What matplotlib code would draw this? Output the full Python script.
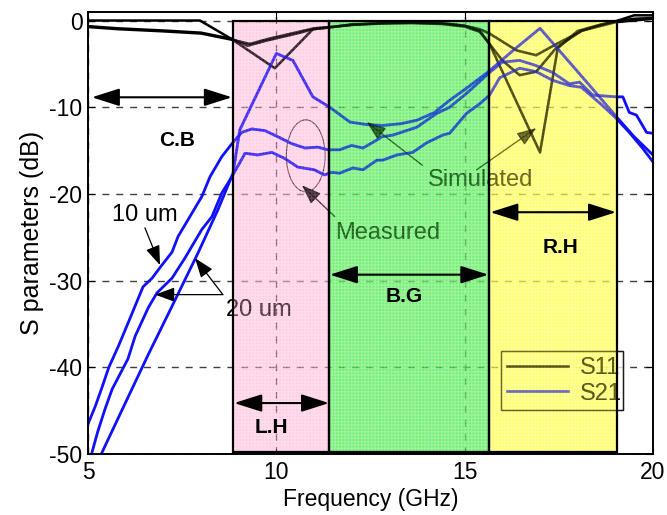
import matplotlib
matplotlib.use("Agg")
import matplotlib.pyplot as plt
from matplotlib.patches import Rectangle, Ellipse

plt.rcParams['font.family'] = ['Liberation Sans', 'DejaVu Sans']
plt.rcParams['axes.unicode_minus'] = False

# ---- S11 traces (dB) ----
s11_a_f = [5.0, 7.97, 8.8, 9.96, 10.97, 11.4, 12.0, 12.8, 13.6, 14.4, 15.0, 15.4, 15.66,
           17.0, 17.47, 18.0, 18.5, 19.0, 19.5, 20.0]
s11_a_db = [0.0, 0.0, -2.1, -5.5, -1.0, -0.8, -0.5, -0.3, -0.2, -0.3, -0.6, -1.2, -2.7,
            -15.2, -3.2, -1.2, -0.6, -0.1, 0.6, 0.6]

s11_b_f = [5.0, 5.8, 7.0, 8.0, 8.8, 9.24, 9.75, 10.54, 10.97, 11.4, 12.0, 12.8, 13.6, 14.4,
           15.0, 15.4, 15.66, 16.38, 16.9, 17.44, 18.13, 19.0, 19.5, 20.0]
s11_b_db = [-0.65, -0.9, -1.15, -1.4, -2.1, -2.9, -2.3, -1.5, -1.0, -0.8, -0.45, -0.3, -0.25,
            -0.35, -0.6, -1.0, -1.5, -3.45, -4.0, -2.7, -1.15, -0.2, 0.0, 0.2]

s11_c_f = [5.0, 5.8, 7.0, 8.0, 8.8, 9.3, 9.8, 10.5, 11.0, 11.4, 12.0, 12.8, 13.6, 14.4,
           15.0, 15.4, 15.66, 16.0, 16.46, 16.9, 17.44, 18.1, 18.6, 19.0, 19.5, 20.0]
s11_c_db = [-0.75, -1.0, -1.25, -1.5, -2.2, -2.7, -2.1, -1.4, -0.9, -0.75, -0.5, -0.35, -0.3,
            -0.4, -0.7, -1.3, -2.7, -4.6, -6.3, -5.9, -3.1, -1.2, -0.5, -0.1, 0.2, 0.3]

# ---- S21 traces (dB) ----
s21_sim_f = [5.3, 5.37, 6.0, 6.6, 7.2, 7.92, 8.45, 8.85, 9.03, 10.0, 10.44, 10.97, 11.42,
             11.95, 12.4, 12.82, 13.3, 13.73, 14.2, 14.6, 15.05, 15.6, 16.3, 17.0, 17.6,
             18.3, 19.03, 19.5, 20.0]
s21_sim_db = [-50.6, -49.8, -44.0, -38.5, -33.2, -26.8, -21.8, -17.6, -12.6, -3.8, -4.6, -8.8,
              -10.0, -11.7, -12.0, -12.1, -11.9, -11.5, -10.6, -9.2, -7.8, -6.0, -3.4, -0.9,
              -3.9, -7.4, -11.1, -13.4, -15.5]

s21_m10_f = [5.0, 5.19, 5.37, 5.55, 5.8, 6.06, 6.46, 6.7, 6.96, 7.23, 7.39, 7.76, 8.02, 8.24,
             8.55, 8.82, 9.08, 9.35, 9.7, 10.04, 10.41, 10.76, 11.1, 11.37, 11.68, 12.0,
             12.3, 12.66, 12.8, 13.1, 13.73, 14.26, 14.6, 15.05, 15.66, 16.0, 16.46, 16.9,
             17.34, 17.78, 18.05, 18.4, 19.03, 19.2, 19.37, 19.56, 19.83, 20.0]
s21_m10_db = [-46.5, -44.5, -42.3, -40.0, -37.6, -34.9, -30.7, -29.7, -28.2, -26.7, -24.9,
              -22.2, -20.3, -18.0, -15.7, -14.2, -12.9, -12.5, -12.7, -13.4, -14.2, -14.7,
              -14.6, -14.9, -14.9, -14.4, -14.7, -13.8, -13.4, -13.2, -12.3, -10.7, -10.0,
              -8.4, -6.0, -4.8, -4.6, -5.2, -6.0, -7.3, -7.1, -8.6, -8.8, -8.8, -10.6,
              -10.9, -12.9, -13.0]

s21_m20_f = [5.08, 5.25, 5.45, 5.64, 6.06, 6.25, 6.6, 6.83, 7.23, 7.57, 8.02, 8.29, 8.55,
             8.82, 9.17, 9.5, 9.88, 10.22, 10.57, 11.0, 11.28, 11.47, 11.68, 12.03, 12.3,
             12.67, 12.82, 13.2, 13.62, 13.99, 14.42, 14.6, 15.05, 15.4, 15.66, 15.93,
             16.46, 16.9, 17.34, 17.78, 18.1, 18.66, 19.03, 19.37, 19.72, 20.0]
s21_m20_db = [-50.2, -47.5, -44.8, -42.5, -39.0, -36.4, -33.1, -31.4, -29.7, -27.4, -24.1,
              -22.6, -19.9, -18.0, -15.3, -15.5, -15.2, -15.9, -16.9, -17.2, -17.8, -17.5,
              -17.6, -17.0, -17.2, -16.1, -16.1, -15.5, -15.2, -14.1, -13.2, -13.0, -10.7,
              -9.6, -8.6, -6.6, -5.5, -5.9, -6.9, -7.5, -7.7, -9.8, -11.3, -12.9, -14.7,
              -16.3]

# ---- frequency bands ----
band_names = ['L.H', 'B.G', 'R.H']
band_lo = [8.85, 11.40, 15.65]
band_hi = [11.40, 15.65, 19.04]
band_colors = [(1.0, 0.52, 0.74), (0.1, 0.9, 0.1), (1.0, 1.0, 0.0)]
band_alpha = [0.40, 0.62, 0.58]
band_bottom = -49.7
band_top = 0.0

fig = plt.figure(figsize=(6.67, 5.15), dpi=100)
ax = fig.add_axes([0.132, 0.118, 0.847, 0.859])

ax.set_xlim(5, 20)
ax.set_ylim(-50, 1)
ax.set_xticks([5, 10, 15, 20])
ax.set_yticks([0, -10, -20, -30, -40, -50])
ax.tick_params(direction='in', labelsize=16.5, length=5, top=True, right=True)
ax.tick_params(axis='x', pad=5)
ax.tick_params(axis='y', pad=4)
ax.grid(True, color='#404040', linestyle=(0, (5, 5)), linewidth=1.0)
for s in ax.spines.values():
    s.set_linewidth(1.4)
    s.set_zorder(9)

ax.set_xlabel('Frequency (GHz)', fontsize=16.5, labelpad=3)
ax.set_ylabel('S parameters (dB)', fontsize=18, labelpad=4)

# Region covered by the bands: artists redrawn inside it get a tinted look
band_clip = Rectangle((band_lo[0], band_bottom), band_hi[-1] - band_lo[0],
                      band_top - band_bottom, transform=ax.transData)

blue = '#1010ff'
traces = [(s11_a_f, s11_a_db, 'black', 1.8), (s11_b_f, s11_b_db, 'black', 1.8),
          (s11_c_f, s11_c_db, 'black', 1.8), (s21_sim_f, s21_sim_db, blue, 2.0),
          (s21_m10_f, s21_m10_db, blue, 2.0), (s21_m20_f, s21_m20_db, blue, 2.0)]
for f, db, c, lw in traces:
    ax.plot(f, db, color=c, lw=lw, zorder=2)
    top, = ax.plot(f, db, color=c, lw=lw, alpha=0.5, zorder=7)
    top.set_clip_path(band_clip)

h11, = ax.plot([], [], color='black', lw=1.8, label='S11')
h21, = ax.plot([], [], color=blue, lw=1.8, label='S21')

leg_box = (0.731, 0.099, 0.216, 0.159)
leg_kw = dict(loc='lower left', bbox_to_anchor=leg_box, mode='expand', frameon=True,
              fancybox=False, edgecolor='black', fontsize=17, handlelength=2.6,
              borderaxespad=0, borderpad=0.25, labelspacing=0.15, handletextpad=0.5)
leg = ax.legend(handles=[h11, h21], **leg_kw)
leg.get_frame().set_linewidth(1.0)
leg.set_zorder(5)
ax.add_artist(leg)
leg2 = ax.legend(handles=[h11, h21], **leg_kw)
leg2.get_frame().set_facecolor('none')
leg2.get_frame().set_alpha(None)
leg2.get_frame().set_edgecolor((0, 0, 0, 0.45))
leg2.get_frame().set_linewidth(1.0)
for t in leg2.get_texts():
    t.set_alpha(0.45)
for ln in leg2.get_lines():
    ln.set_alpha(0.45)
leg2.set_zorder(7)

# Shaded bands with a fine grid texture
for lo, hi, c, a in zip(band_lo, band_hi, band_colors, band_alpha):
    ax.add_patch(Rectangle((lo, band_bottom), hi - lo, band_top - band_bottom,
                           facecolor=c, alpha=a, edgecolor='none', zorder=6))
    ax.add_patch(Rectangle((lo, band_bottom), hi - lo, band_top - band_bottom,
                           facecolor='none', edgecolor='white', hatch='+++++', lw=0,
                           alpha=0.3, zorder=6))
    ax.add_patch(Rectangle((lo, band_bottom), hi - lo, band_top - band_bottom,
                           facecolor='none', edgecolor='black', lw=1.6, zorder=8))

# Band extent arrows and labels
dbl = dict(arrowstyle='<|-|>,head_length=0.85,head_width=0.27', mutation_scale=20,
           lw=1.5, color='black', shrinkA=0, shrinkB=0)
ax.annotate('', xy=(8.82, -8.85), xytext=(5.1, -8.85), arrowprops=dbl, zorder=8)
ax.annotate('', xy=(11.40, -44.1), xytext=(8.88, -44.1), arrowprops=dbl, zorder=8)
ax.annotate('', xy=(15.63, -29.3), xytext=(11.42, -29.3), arrowprops=dbl, zorder=8)
ax.annotate('', xy=(19.02, -22.1), xytext=(15.68, -22.1), arrowprops=dbl, zorder=8)
bold = dict(fontsize=15, fontweight='bold', ha='center', va='center', zorder=8)
ax.text(7.36, -13.8, 'C.B', **bold)
ax.text(9.88, -46.9, 'L.H', **bold)
ax.text(13.4, -31.8, 'B.G', **bold)
ax.text(17.55, -26.2, 'R.H', **bold)


def tinted_text(x, y, s, **kw):
    # plain text under the bands, plus a faint copy on top inside the band area
    ax.text(x, y, s, zorder=3, **kw)
    t = ax.text(x, y, s, zorder=7, alpha=0.35, **kw)
    t.set_clip_on(True)
    t.set_clip_path(band_clip)


def tinted_arrow(xy, xytext, props):
    ax.annotate('', xy=xy, xytext=xytext, arrowprops=props, zorder=3)
    a = ax.annotate('', xy=xy, xytext=xytext, arrowprops=dict(props, alpha=0.35), zorder=7)
    a.arrow_patch.set_clip_path(band_clip)


# Callouts
thin = dict(arrowstyle='-|>,head_length=0.6,head_width=0.22', mutation_scale=20,
            lw=0.9, color='black', shrinkA=0, shrinkB=0)
txt = dict(fontsize=17, ha='center', va='center')
tinted_text(6.51, -22.4, '10 um', **txt)
tinted_arrow((6.91, -28.2), (6.51, -23.9), thin)
tinted_text(9.54, -33.4, '20 um', **txt)
tinted_arrow((6.78, -31.6), (8.58, -31.6), thin)
tinted_arrow((7.84, -27.4), (8.58, -31.6), thin)

ax.add_patch(Ellipse((10.78, -15.6), 1.03, 8.3, facecolor='none', edgecolor='black',
                     lw=0.8, zorder=3))
tinted_text(12.96, -24.5, 'Measured', **txt)
tinted_arrow((10.68, -19.0), (11.55, -22.6), thin)

tinted_text(15.42, -18.4, 'Simulated', **txt)
tinted_arrow((12.4, -11.7), (13.88, -16.7), thin)
tinted_arrow((16.9, -12.4), (15.32, -17.2), thin)

fig.savefig('out.png', dpi=100)
